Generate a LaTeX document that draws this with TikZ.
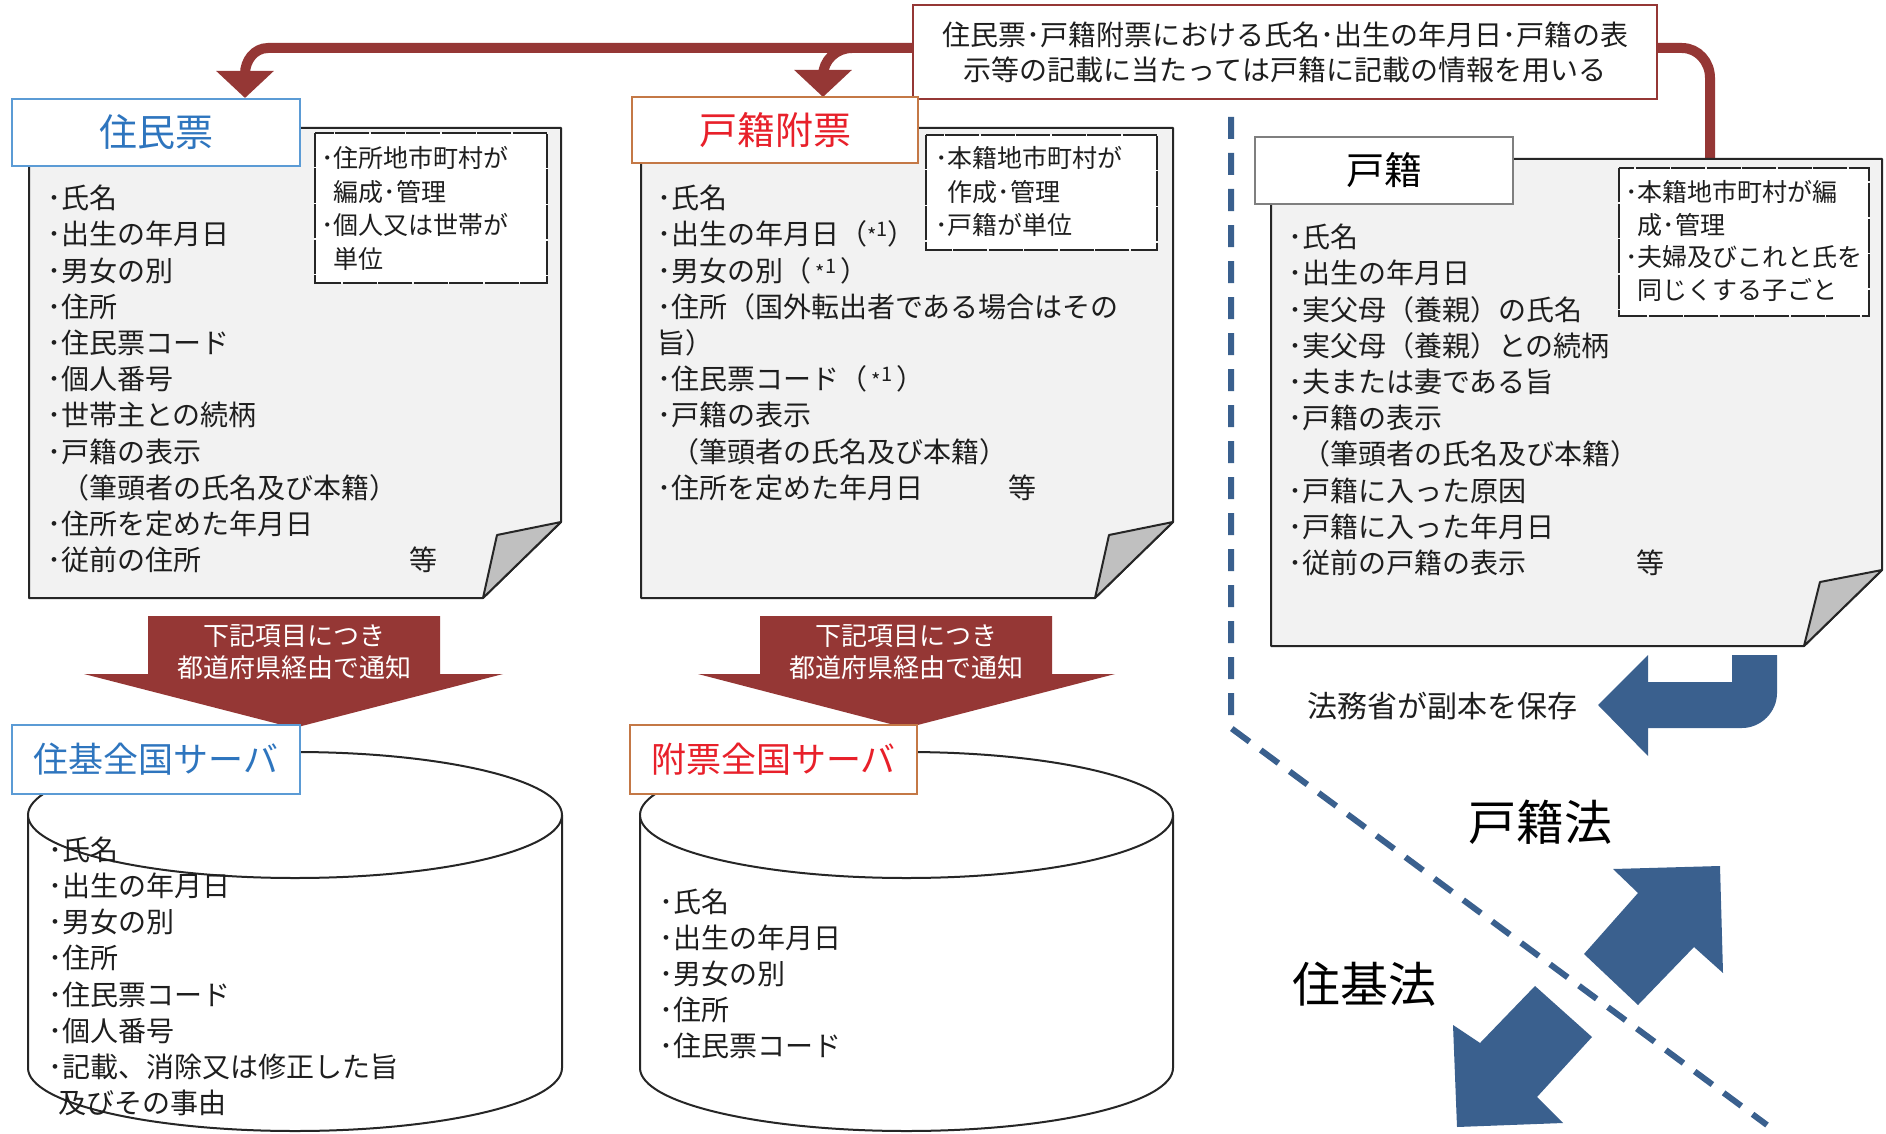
\documentclass[tikz,border=0pt]{standalone}
\usepackage{fontspec}
\setmainfont{Noto Sans CJK JP}
\usetikzlibrary{arrows.meta}
\pgfdeclarelayer{bg}
\pgfsetlayers{bg,main}
\definecolor{redA}{RGB}{149,55,53}
\definecolor{blueA}{RGB}{58,96,142}
\definecolor{docfill}{RGB}{242,242,242}
\definecolor{foldfill}{RGB}{192,192,192}
\definecolor{tonel}{RGB}{91,155,213}
\definecolor{tonet}{RGB}{46,117,190}
\definecolor{ttwol}{RGB}{196,120,70}
\definecolor{ttwot}{RGB}{232,32,42}
\definecolor{tthreel}{RGB}{127,127,127}
\definecolor{txtc}{RGB}{30,30,30}
\newcommand{\fs}[2]{\fontsize{#1pt}{#2pt}\selectfont}
\newcommand{\astone}{{\fontsize{20pt}{20pt}\selectfont\raisebox{1pt}{*}\raisebox{8pt}{1}}}
\tikzset{
  body/.style={anchor=base west, inner sep=0pt, font=\fs{28}{36}, text=txtc},
  notetxt/.style={anchor=base west, inner sep=0pt, font=\fs{25}{32}, text=txtc},
  ttl/.style={draw, line width=1.5pt, fill=white, inner sep=0pt},
  docshape/.style={draw=black!85, line width=2pt, fill=docfill, line join=round},
  foldshape/.style={draw=black!85, line width=2pt, fill=foldfill, line join=round},
  notebox/.style={draw=black!85, line width=1.5pt, fill=white, dash pattern=on 34pt off 1.5pt},
  redline/.style={draw=redA, line width=10pt},
  redtip/.style={-{Triangle[width=56pt,length=27pt]}},
  cylside/.style={draw=black!85, line width=2pt},
  bluedash/.style={draw=blueA, line width=6pt, dash pattern=on 22pt off 14pt},
}
\begin{document}
\begin{tikzpicture}[x=1pt,y=-1pt]
\useasboundingbox (0,0) rectangle (1886,1134);
\begin{pgfonlayer}{bg}
\fill[white] (0,0) rectangle (1886,1134);
\end{pgfonlayer}

% ---------- label box and red connectors ----------
\node[draw=redA, line width=1.5pt, fill=white, minimum width=744pt, minimum height=94pt,
      align=center, font=\fs{28}{35}, inner sep=0pt, text=txtc] (lbl) at (1285,52)
  {住民票･戸籍附票における氏名･出生の年月日･戸籍の表\\示等の記載に当たっては戸籍に記載の情報を用いる};
\coordinate (lblL) at (lbl.west |- 0,48);
\coordinate (lblR) at (lbl.east |- 0,48);
\coordinate (br) at (852,48);
\coordinate (tonein) at (245,98);
\coordinate (ttwoin) at (823,97);
\coordinate (tthreein) at (1710,165);
\begin{pgfonlayer}{bg}
\draw[redline, redtip] (lblL) -- (268,48) to[out=180,in=90] (245,74) -- (tonein);
\draw[redline, redtip] (br) to[out=180,in=90] (823,76) -- (ttwoin);
\draw[redline] (lblR) -- (1682,48) to[out=0,in=90] (1710,78) -- (tthreein);
\end{pgfonlayer}

% ---------- blue dashed boundary ----------
\coordinate (dA) at (1231,117);
\coordinate (dB) at (1231,728);
\coordinate (dC) at (1767,1125);
\draw[bluedash] (dA) -- (dB) -- (dC);

% ---------- documents ----------
\path[docshape] (29,128) -- (561,128) -- (561,522) -- (483,598) -- (29,598) -- cycle;
\path[foldshape] (561,522) -- (497,535) -- (483,598) -- cycle;
\path[docshape] (641,128) -- (1173,128) -- (1173,522) -- (1095,598) -- (641,598) -- cycle;
\path[foldshape] (1173,522) -- (1109,535) -- (1095,598) -- cycle;
\path[docshape] (1271,159) -- (1882,159) -- (1882,570) -- (1804,646) -- (1271,646) -- cycle;
\path[foldshape] (1882,570) -- (1820,582) -- (1804,646) -- cycle;

% note boxes
\path[notebox] (315,133) rectangle (547,283);
\path[notebox] (926,135) rectangle (1157,250);
\path[notebox] (1619,168) rectangle (1869,316);

\foreach \t [count=\i from 0] in {{･住所地市町村が},{\phantom{･}編成･管理},{･個人又は世帯が},{\phantom{･}単位}}
  \node[notetxt] (nA\i) at (321,{167.5+33.6*\i}) {\t};
\foreach \t [count=\i from 0] in {{･本籍地市町村が},{\phantom{･}作成･管理},{･戸籍が単位}}
  \node[notetxt] (nB\i) at (935,{167.5+33.6*\i}) {\t};
\foreach \t [count=\i from 0] in {{･本籍地市町村が編},{\phantom{･}成･管理},{･夫婦及びこれと氏を},{\phantom{･}同じくする子ごと}}
  \node[notetxt] (nC\i) at (1625,{201.5+32.5*\i}) {\t};

% title boxes
\node[ttl, draw=tonel, text=tonet, minimum width=288pt, minimum height=67pt, font=\fs{38}{40}] (tone) at (156,132.5) {住民票};
\node[ttl, draw=ttwol, text=ttwot, minimum width=286pt, minimum height=66pt, font=\fs{38}{40}] (ttwo) at (775,130) {戸籍附票};
\node[ttl, draw=tthreel, text=black, minimum width=258pt, minimum height=67pt, font=\fs{38}{40}] (tthree) at (1384,170.5) {戸籍};

% document texts
\foreach \t [count=\i from 0] in {{･氏名},{･出生の年月日},{･男女の別},{･住所},{･住民票コード},{･個人番号},{･世帯主との続柄},{･戸籍の表示},{\phantom{･}（筆頭者の氏名及び本籍）},{･住所を定めた年月日},{\makebox[362pt][l]{･従前の住所}等}}
  \node[body] (dA\i) at (47,{208.6+36.2*\i}) {\t};
\foreach \t [count=\i from 0] in {{･氏名},{･出生の年月日（\astone）},{･男女の別（\,\astone\,）},{･住所（国外転出者である場合はその},{旨）},{･住民票コード（\,\astone\,）},{･戸籍の表示},{\phantom{･}（筆頭者の氏名及び本籍）},{\makebox[351pt][l]{･住所を定めた年月日}等}}
  \node[body] (dB\i) at (657,{208.6+36.2*\i}) {\t};
\foreach \t [count=\i from 0] in {{･氏名},{･出生の年月日},{･実父母（養親）の氏名},{･実父母（養親）との続柄},{･夫または妻である旨},{･戸籍の表示},{\phantom{･}（筆頭者の氏名及び本籍）},{･戸籍に入った原因},{･戸籍に入った年月日},{\makebox[348pt][l]{･従前の戸籍の表示}等}}
  \node[body] (dC\i) at (1288,{247.6+36.2*\i}) {\t};

% ---------- red block arrows ----------
\fill[redA] (148,616) -- (440,616) -- (440,674) -- (503,674) -- (294,728) -- (84,674) -- (148,674) -- cycle;
\fill[redA] (760,616) -- (1052,616) -- (1052,674) -- (1115,674) -- (906,728) -- (698,674) -- (760,674) -- cycle;
\node[align=center, text=white, font=\fs{26}{32}, inner sep=0pt] (rA) at (294,652) {下記項目につき\\都道府県経由で通知};
\node[align=center, text=white, font=\fs{26}{32}, inner sep=0pt] (rB) at (906,652) {下記項目につき\\都道府県経由で通知};

% ---------- cylinders ----------
\fill[white] (28,815) -- (28,1068) .. controls (28,1102.8) and (147.5,1131) .. (295,1131) .. controls (442.5,1131) and (562,1102.8) .. (562,1068) -- (562,815) -- cycle;
\draw[cylside] (28,815) -- (28,1068) .. controls (28,1102.8) and (147.5,1131) .. (295,1131) .. controls (442.5,1131) and (562,1102.8) .. (562,1068) -- (562,815);
\draw[cylside, fill=white] (295,815) ellipse [x radius=267pt, y radius=63pt];
\fill[white] (640,815) -- (640,1068) .. controls (640,1102.8) and (759.5,1131) .. (906.5,1131) .. controls (1053.5,1131) and (1173,1102.8) .. (1173,1068) -- (1173,815) -- cycle;
\draw[cylside] (640,815) -- (640,1068) .. controls (640,1102.8) and (759.5,1131) .. (906.5,1131) .. controls (1053.5,1131) and (1173,1102.8) .. (1173,1068) -- (1173,815);
\draw[cylside, fill=white] (906.5,815) ellipse [x radius=266.5pt, y radius=63pt];

\node[ttl, draw=tonel, text=tonet, minimum width=288pt, minimum height=69pt, font=\fs{35}{40}] (sone) at (156,759.5) {住基全国サーバ};
\node[ttl, draw=ttwol, text=ttwot, minimum width=287pt, minimum height=69pt, font=\fs{35}{40}] (stwo) at (773.5,759.5) {附票全国サーバ};

\foreach \t [count=\i from 0] in {{･氏名},{･出生の年月日},{･男女の別},{･住所},{･住民票コード},{･個人番号},{･記載、消除又は修正した旨},{\hspace{10pt}及びその事由}}
  \node[body] (cA\i) at (48,{860.6+36.1*\i}) {\t};
\foreach \t [count=\i from 0] in {{･氏名},{･出生の年月日},{･男女の別},{･住所},{･住民票コード}}
  \node[body] (cB\i) at (659,{912.6+36*\i}) {\t};

% ---------- blue arrows and law labels ----------
\fill[blueA] (1732,655) -- (1777,655) -- (1777,693) .. controls (1777,712) and (1761,728) .. (1742,728) -- (1648,728) -- (1648,756) -- (1598,705) -- (1648,655) -- (1648,682) -- (1732,682) -- cycle;
\node[anchor=west, inner sep=0pt, font=\fs{30}{34}, text=txtc] (moj) at (1307,706) {法務省が副本を保存};

\fill[blueA] (1584,954) -- (1638,893) -- (1613,869) -- (1720,866) -- (1723,973) -- (1694,947) -- (1638,1005) -- cycle;
\fill[blueA] (1535,986) -- (1480,1043) -- (1453,1025) -- (1457,1127) -- (1563,1123) -- (1537,1097) -- (1592,1037) -- cycle;

\node[inner sep=0pt, font=\fs{48}{50}, text=black] (kosekiho) at (1540,822) {戸籍法};
\node[inner sep=0pt, font=\fs{48}{50}, text=black] (juukiho) at (1364,984) {住基法};
\end{tikzpicture}
\end{document}
